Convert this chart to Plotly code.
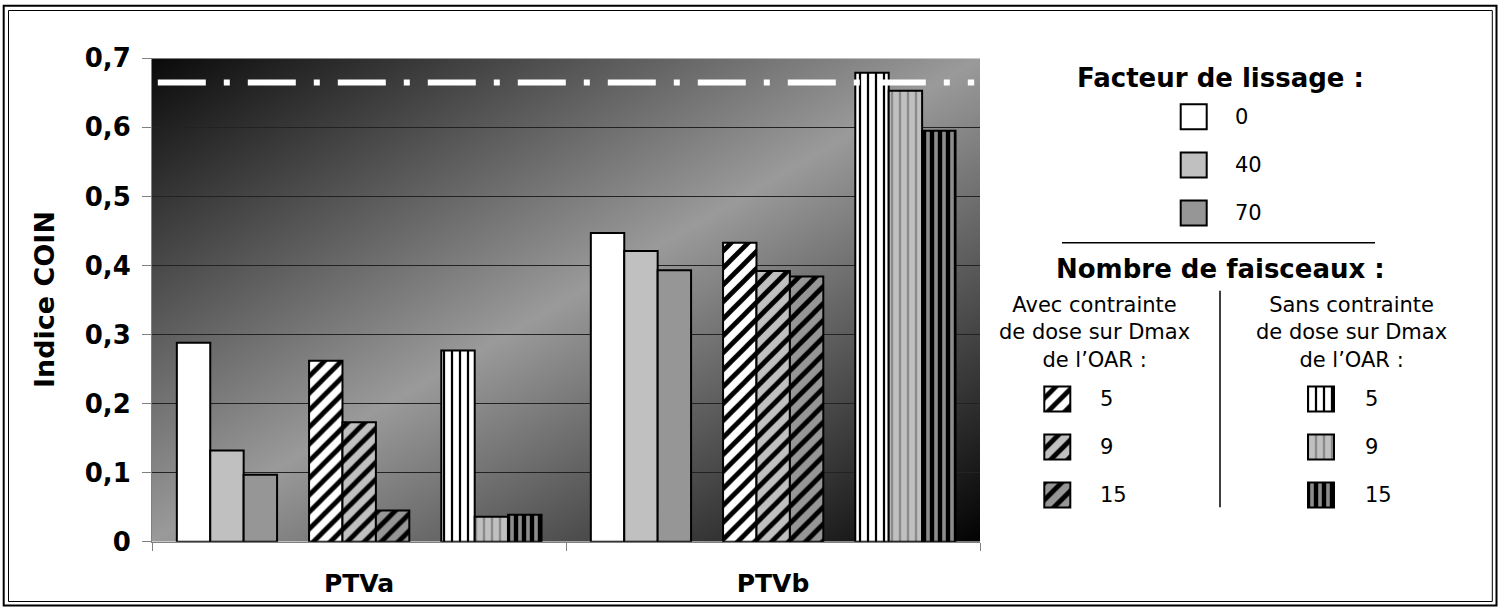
import base64
import plotly.graph_objects as go

# ---------------- data ----------------
CATEGORIES = ["PTVa", "PTVb"]
Y_TICK_VALUES = [0, 0.1, 0.2, 0.3, 0.4, 0.5, 0.6, 0.7]
Y_TICK_LABELS = ["0", "0,1", "0,2", "0,3", "0,4", "0,5", "0,6", "0,7"]

LISSAGE_LABELS = ["0", "40", "70"]
LISSAGE_0 = [0.288, 0.447]
LISSAGE_40 = [0.132, 0.421]
LISSAGE_70 = [0.097, 0.393]

BEAM_LABELS = ["5", "9", "15"]
AVEC_5 = [0.262, 0.433]
AVEC_9 = [0.173, 0.392]
AVEC_15 = [0.045, 0.384]
SANS_5 = [0.277, 0.679]
SANS_9 = [0.036, 0.653]
SANS_15 = [0.039, 0.595]

REFERENCE_VALUE = 0.665

Y_TITLE = "Indice COIN"
LEG1_TITLE = "Facteur de lissage :"
LEG2_TITLE = "Nombre de faisceaux :"
AVEC_TITLE = "Avec contrainte<br>de dose sur Dmax<br>de l\u2019OAR :"
SANS_TITLE = "Sans contrainte<br>de dose sur Dmax<br>de l\u2019OAR :"

# ---------------- style / layout ----------------
W, H = 1501, 608
FONT = "DejaVu Sans"
PLOT_L, PLOT_R, PLOT_T, PLOT_B = 152, 980, 58.3, 541.7
BAR_W = 0.0807
GROUP_GAP = 0.0773
START = -0.44
OUTLINE = dict(color="black", width=2)

WHITE, LIGHT, MID = "#ffffff", "#c0c0c0", "#969696"

plain = lambda c: dict(color=c, line=OUTLINE)


def patt(bg, fg, shape, size, solidity):
    return dict(color=bg, line=OUTLINE,
                pattern=dict(shape=shape, fgcolor=fg, bgcolor=bg, size=size,
                             solidity=solidity, fillmode="replace"))


groups = [
    [(LISSAGE_0, plain(WHITE)), (LISSAGE_40, plain(LIGHT)), (LISSAGE_70, plain(MID))],
    [(AVEC_5, patt(WHITE, "black", "/", 12, 0.4)),
     (AVEC_9, patt(LIGHT, "black", "/", 12, 0.4)),
     (AVEC_15, patt(MID, "black", "/", 12, 0.4))],
    [(SANS_5, patt(WHITE, "black", "|", 8, 0.28)),
     (SANS_9, patt(LIGHT, "#8a8a8a", "|", 8, 0.3)),
     (SANS_15, patt("#8c8c8c", "black", "|", 8, 0.55))],
]

fig = go.Figure()
xs = list(range(len(CATEGORIES)))
for g, grp in enumerate(groups):
    for b, (vals, marker) in enumerate(grp):
        off = START + g * (3 * BAR_W + GROUP_GAP) + b * BAR_W
        fig.add_trace(go.Bar(x=xs, y=vals, width=BAR_W, offset=off, marker=marker,
                             showlegend=False, hoverinfo="skip"))

# reference line
fig.add_trace(go.Scatter(x=[-0.486, 1.486], y=[REFERENCE_VALUE, REFERENCE_VALUE], mode="lines",
                         line=dict(color="white", width=6, dash="48px,18px,6px,18px"),
                         showlegend=False, hoverinfo="skip"))

# ---------------- custom legend (pixel coordinates on auxiliary axes) ----------------
SW, SH = 26, 25
legend_items = [
    (1193.7, [116.8, 165, 213], 1232.7, LISSAGE_LABELS, [m for _, m in groups[0]]),
    (1057.3, [399, 447, 495], 1098, BEAM_LABELS, [m for _, m in groups[1]]),
    (1321, [399, 447, 495], 1362.7, BEAM_LABELS, [m for _, m in groups[2]]),
]
annotations = []


def px(x):
    return x / W


def py(y):
    return 1 - y / H


REG = dict(family=FONT, size=21, color="black")
for cx, rows, lx, labels, markers in legend_items:
    for cy, lab, m in zip(rows, labels, markers):
        fig.add_trace(go.Bar(x=[cx], y=[SH], base=[cy - SH / 2], width=SW, marker=m,
                             xaxis="x2", yaxis="y2", showlegend=False, hoverinfo="skip"))
        annotations.append(dict(x=px(lx), y=py(cy), xref="paper", yref="paper", text=lab,
                                showarrow=False, xanchor="left", yanchor="middle", font=REG))

bold = dict(family=FONT, size=26, color="black", weight="bold")
annotations += [
    dict(x=px(1220), y=py(78), text=LEG1_TITLE, font=bold),
    dict(x=px(1220), y=py(269.5), text=LEG2_TITLE, font=bold),
    dict(x=px(1094), y=py(332), text=AVEC_TITLE, align="center", font=REG),
    dict(x=px(1351), y=py(332), text=SANS_TITLE, align="center", font=REG),
    dict(x=px(44), y=py((PLOT_T + PLOT_B) / 2), text=Y_TITLE, textangle=-90,
         font=dict(family=FONT, size=27, color="black", weight="bold")),
]
for a in annotations:
    a.setdefault("xref", "paper")
    a.setdefault("yref", "paper")
    a.setdefault("showarrow", False)
    a.setdefault("xanchor", "center")
    a.setdefault("yanchor", "middle")

# gradient background
svg = ("<svg xmlns='http://www.w3.org/2000/svg' width='100' height='100' viewBox='0 0 100 100' "
       "preserveAspectRatio='none'><defs><linearGradient id='g' x1='0' y1='0' x2='1' y2='1'>"
       "<stop offset='0' stop-color='#0a0a0a'/><stop offset='0.5' stop-color='#9a9a9a'/>"
       "<stop offset='1' stop-color='#020202'/></linearGradient></defs>"
       "<rect width='100' height='100' fill='url(#g)'/></svg>")
src = "data:image/svg+xml;base64," + base64.b64encode(svg.encode()).decode()

shapes = [
    dict(type="rect", xref="paper", yref="paper", x0=px(3.7), x1=px(1496.5), y0=py(5.7), y1=py(605.5),
         line=dict(color="black", width=2)),
    dict(type="rect", xref="paper", yref="paper", x0=px(8.5), x1=px(1492.3), y0=py(10.5), y1=py(601.5),
         line=dict(color="black", width=1)),
    dict(type="line", xref="paper", yref="paper", x0=px(1062), x1=px(1375), y0=py(242.7), y1=py(242.7),
         line=dict(color="black", width=1.5)),
    dict(type="line", xref="paper", yref="paper", x0=px(1220), x1=px(1220), y0=py(290.7), y1=py(507.3),
         line=dict(color="black", width=1.5)),
]

fig.update_layout(
    width=W, height=H, margin=dict(l=0, r=0, t=0, b=0, autoexpand=False),
    paper_bgcolor="white", plot_bgcolor="rgba(0,0,0,0)",
    barmode="overlay", showlegend=False,
    xaxis=dict(domain=[px(PLOT_L), px(PLOT_R)], range=[-0.5, 1.5], tickvals=xs, ticktext=CATEGORIES,
               ticks="", showgrid=False, zeroline=False, showline=True, linecolor="#808080", linewidth=1,
               tickfont=dict(family=FONT, size=25, color="black", weight="bold"), ticklabelstandoff=19,
               automargin=False,
               minor=dict(tickvals=[-0.5, 0.5, 1.5], ticks="outside", ticklen=8, tickcolor="#808080",
                          showgrid=False)),
    yaxis=dict(domain=[py(PLOT_B), py(PLOT_T)], range=[0, 0.7], tickvals=Y_TICK_VALUES,
               ticktext=Y_TICK_LABELS, ticks="outside", ticklen=9, tickcolor="#808080",
               showgrid=True, gridcolor="#222222", gridwidth=1, zeroline=False, automargin=False,
               showline=True, linecolor="#808080", linewidth=1,
               tickfont=dict(family=FONT, size=26, color="black", weight="bold"), ticklabelstandoff=6),
    xaxis2=dict(domain=[0, 1], range=[0, W], visible=False, anchor="y2", fixedrange=True,
                automargin=False),
    yaxis2=dict(domain=[0, 1], range=[H, 0], visible=False, anchor="x2", fixedrange=True,
                automargin=False),
    images=[dict(source=src, xref="paper", yref="paper", x=px(PLOT_L), y=py(PLOT_T),
                 sizex=px(PLOT_R) - px(PLOT_L), sizey=py(PLOT_T) - py(PLOT_B),
                 xanchor="left", yanchor="top", sizing="stretch", layer="below")],
    annotations=annotations, shapes=shapes,
)

fig.write_html("out.html", config=dict(displayModeBar=False),
               post_script="document.body.style.margin='0px';document.body.style.overflow='hidden';")
